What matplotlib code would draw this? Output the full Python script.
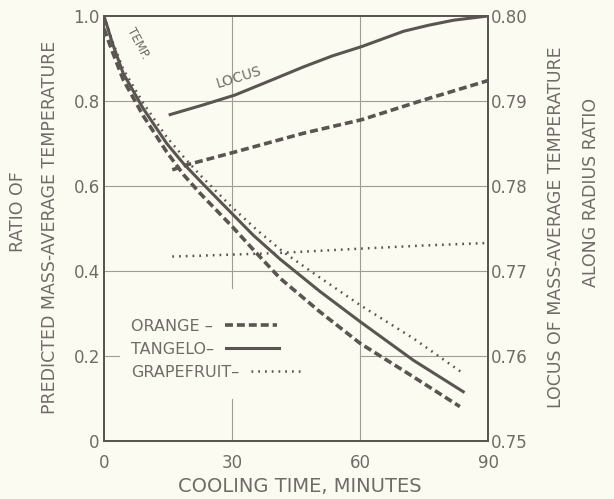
import matplotlib.pyplot as plt
from matplotlib.lines import Line2D

# Temperature ratio curves (left axis)
orange_t = [0, 2, 4.5, 9.2, 14.7, 18.6, 22.5, 30, 35, 41.25, 50.6, 60, 72.5, 83.4]
orange_temp = [0.97, 0.915, 0.85, 0.765, 0.68, 0.627, 0.583, 0.505, 0.45, 0.383, 0.304, 0.23, 0.151, 0.081]

tangelo_t = [0, 2, 4.5, 9.2, 14.7, 18.6, 22.5, 30, 35, 41.25, 50.6, 60, 72.5, 84.2]
tangelo_temp = [1.0, 0.935, 0.865, 0.782, 0.70, 0.653, 0.612, 0.535, 0.484, 0.428, 0.352, 0.281, 0.19, 0.116]

grape_t = [0, 2, 4.5, 9.2, 14.7, 18.6, 22.5, 30, 36, 42, 49.8, 60, 72.5, 84.2]
grape_temp = [1.0, 0.94, 0.875, 0.795, 0.715, 0.669, 0.626, 0.55, 0.495, 0.445, 0.39, 0.32, 0.2415, 0.159]

# Locus of mass-average temperature (right axis)
tangelo_locus_t = [15.5, 23, 30.7, 38.5, 46.7, 53.5, 60.4, 70.2, 76, 81.9, 90]
tangelo_locus = [0.7884, 0.7895, 0.7907, 0.7923, 0.7940, 0.7953, 0.7964, 0.7982, 0.7989, 0.7995, 0.8000]

orange_locus_t = [16, 19.5, 30.7, 46.7, 60.4, 74.8, 90]
orange_locus = [0.7819, 0.7825, 0.7840, 0.7862, 0.7878, 0.7901, 0.7924]

grape_locus_t = [16, 22.5, 40, 59, 75, 90]
grape_locus = [0.7717, 0.7718, 0.7721, 0.7726, 0.7730, 0.7733]

bg = '#fbfbf1'
ink = '#5b5552'
txt = '#706b66'
grid_c = '#a09c96'

plt.rcParams['font.family'] = ['DejaVu Sans']

fig = plt.figure(figsize=(6.14, 4.99), dpi=100, facecolor=bg)
ax = fig.add_axes([0.1694, 0.1162, 0.6254, 0.8518])
ax.set_facecolor(bg)
ax2 = ax.twinx()

dash_style = dict(color=ink, lw=2.6, dashes=(2.2, 1.1))
solid_style = dict(color=ink, lw=2.2)
dot_style = dict(color=ink, lw=1.8, dashes=(0.7, 2.0))

ax.plot(orange_t, orange_temp, **dash_style)
ax.plot(tangelo_t, tangelo_temp, **solid_style)
ax.plot(grape_t, grape_temp, **dot_style)

ax2.plot(orange_locus_t, orange_locus, **dash_style)
ax2.plot(tangelo_locus_t, tangelo_locus, **solid_style)
ax2.plot(grape_locus_t, grape_locus, **dot_style)

ax.set_xlim(0, 90)
ax.set_ylim(0, 1.0)
ax2.set_ylim(0.75, 0.80)

# hand-drawn style partial grid
gkw = dict(color=grid_c, lw=0.8, zorder=0)
for y in [0.4, 0.6, 0.8]:
    ax.axhline(y, **gkw)
ax.axhline(0.2, xmin=0, xmax=0.04, **gkw)
ax.axhline(0.2, xmin=2/3, xmax=1, **gkw)
ax.axvline(60, **gkw)
ax.axvline(30, ymin=0.36, ymax=1, **gkw)
ax.axvline(30, ymin=0, ymax=0.10, **gkw)

for a in (ax, ax2):
    for s in a.spines.values():
        s.set_color(ink)
        s.set_linewidth(1.3)
    a.tick_params(length=0, labelsize=12, labelcolor=txt)

ax.set_xticks([0, 30, 60, 90])
ax.set_xticklabels(['0', '30', '60', '90'])
ax.tick_params(axis='x', pad=9)
ax.tick_params(axis='y', pad=3)
ax.set_yticks([0, 0.2, 0.4, 0.6, 0.8, 1.0])
ax.set_yticklabels(['0', '0.2', '0.4', '0.6', '0.8', '1.0'])
ax2.set_yticks([0.75, 0.76, 0.77, 0.78, 0.79, 0.80])
ax2.set_yticklabels(['0.75', '0.76', '0.77', '0.78', '0.79', '0.80'])
ax2.tick_params(axis='y', pad=2)

# axis titles
fig.text(0.030, 0.575, 'RATIO OF', rotation=90, ha='center', va='center',
         fontsize=12.5, color=txt)
fig.text(0.082, 0.545, 'PREDICTED MASS-AVERAGE TEMPERATURE', rotation=90,
         ha='center', va='center', fontsize=12.5, color=txt)
fig.text(0.906, 0.545, 'LOCUS OF MASS-AVERAGE TEMPERATURE', rotation=90,
         ha='center', va='center', fontsize=12.5, color=txt)
fig.text(0.962, 0.615, 'ALONG RADIUS RATIO', rotation=90,
         ha='center', va='center', fontsize=12.5, color=txt)
fig.text(0.488, 0.025, 'COOLING TIME, MINUTES', ha='center', va='center',
         fontsize=14, color=txt)

# curve labels
ax.text(8.0, 0.935, 'TEMP.', rotation=-62, ha='center', va='center',
        fontsize=8.5, color=txt)
ax.text(31.5, 0.855, 'LOCUS', rotation=17, ha='center', va='center',
        fontsize=10, color=txt)

handles = [Line2D([], [], **dash_style),
           Line2D([], [], **solid_style),
           Line2D([], [], **dot_style)]
labels = ['ORANGE \u2013', 'TANGELO\u2013', 'GRAPEFRUIT\u2013']
leg = ax.legend(handles, labels, loc='upper left', bbox_to_anchor=(0.07, 0.287),
                frameon=False, markerfirst=False, handlelength=3.3,
                handletextpad=0.75, labelspacing=0.5, fontsize=11.5,
                borderpad=0, borderaxespad=0)
for t in leg.get_texts():
    t.set_color(txt)
# rows left-aligned so each key follows its label
for col in leg._legend_handle_box.get_children():
    col.align = 'left'

plt.savefig('out.png', dpi=100, facecolor=bg)
